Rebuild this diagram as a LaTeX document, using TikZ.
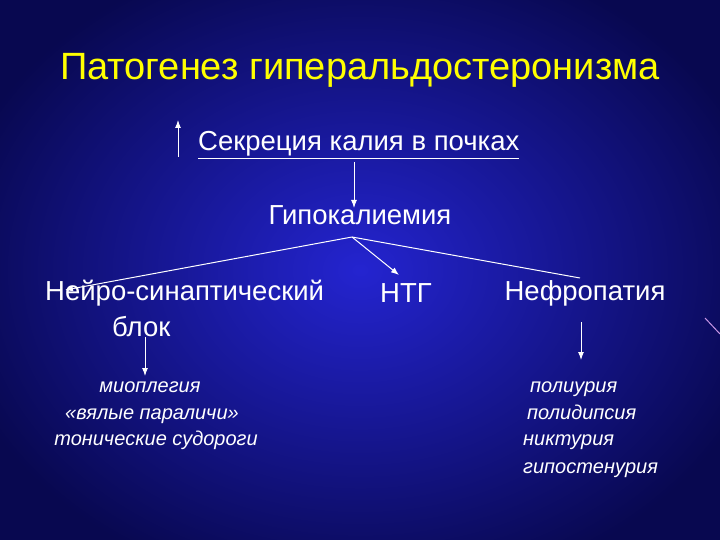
\documentclass[tikz,border=0pt]{standalone}
\usepackage{fontspec}
\setmainfont{Liberation Sans}
\usetikzlibrary{arrows.meta}
\begin{document}
\begin{tikzpicture}[x=1pt,y=-1pt,
  txt/.style={text=white,font=\fontsize{27.5}{30}\selectfont,inner sep=0pt},
  sm/.style={text=white,font=\fontsize{20}{22}\selectfont\itshape,inner sep=0pt},
  arr/.style={white,line width=1pt,-{Latex[length=8pt,width=6pt]}}]
\definecolor{bgin}{HTML}{2424D0}
\definecolor{bgout}{HTML}{080850}
\useasboundingbox (0,0) rectangle (720,540);
\begin{scope}
\clip (0,0) rectangle (720,540);
\shade[inner color=bgin,outer color=bgout] (-60,-60) rectangle (780,600);
\end{scope}
\draw[color={rgb,255:red,200;green,150;blue,230},line width=1pt] (705,318) -- (720,334);
\node[text={rgb,255:red,255;green,255;blue,0},font=\fontsize{38}{40}\selectfont,inner sep=0pt] (title) at (360,70) {Патогенез гиперальдостеронизма};
\node[txt,anchor=west] (sec) at (198,145) {\underline{Секреция калия в почках}};
\coordinate (up0) at (178,157);
\coordinate (up1) at (178,120);
\draw[arr] (up0) -- (up1);
\node[txt] (hypo) at (360,215) {Гипокалиемия};
\coordinate (d0) at (354,162);
\coordinate (d1) at (354,208);
\draw[arr] (d0) -- (d1);
\node[txt,anchor=west] (neuro) at (45,293) {Нейро-синаптический};
\node[txt,anchor=west] (blok) at (112,327) {блок};
\node[txt] (ntg) at (406,293) {НТГ};
\node[txt] (nefro) at (585,293) {Нефропатия};
\coordinate (hb) at (352,237);
\coordinate (nt) at (65,290);
\coordinate (nt2) at (399,275);
\coordinate (nf) at (580,278);
\draw[arr] (hb) -- (nt);
\draw[arr] (hb) -- (nt2);
\draw[white,line width=1pt] (hb) -- (nf);
\coordinate (la0) at (145,337);
\coordinate (la1) at (145,376);
\draw[arr] (la0) -- (la1);
\coordinate (ra0) at (581,322);
\coordinate (ra1) at (581,360);
\draw[arr] (ra0) -- (ra1);
\node[sm,anchor=base] (l1) at (150,392) {миоплегия};
\node[sm,anchor=base] (l2) at (152,419) {«вялые параличи»};
\node[sm,anchor=base] (l3) at (156,445) {тонические судороги};
\node[sm,anchor=base west] (r1) at (530,392) {полиурия};
\node[sm,anchor=base west] (r2) at (527,419) {полидипсия};
\node[sm,anchor=base west] (r3) at (523,445) {никтурия};
\node[sm,anchor=base west] (r4) at (523,473) {гипостенурия};
\end{tikzpicture}
\end{document}
